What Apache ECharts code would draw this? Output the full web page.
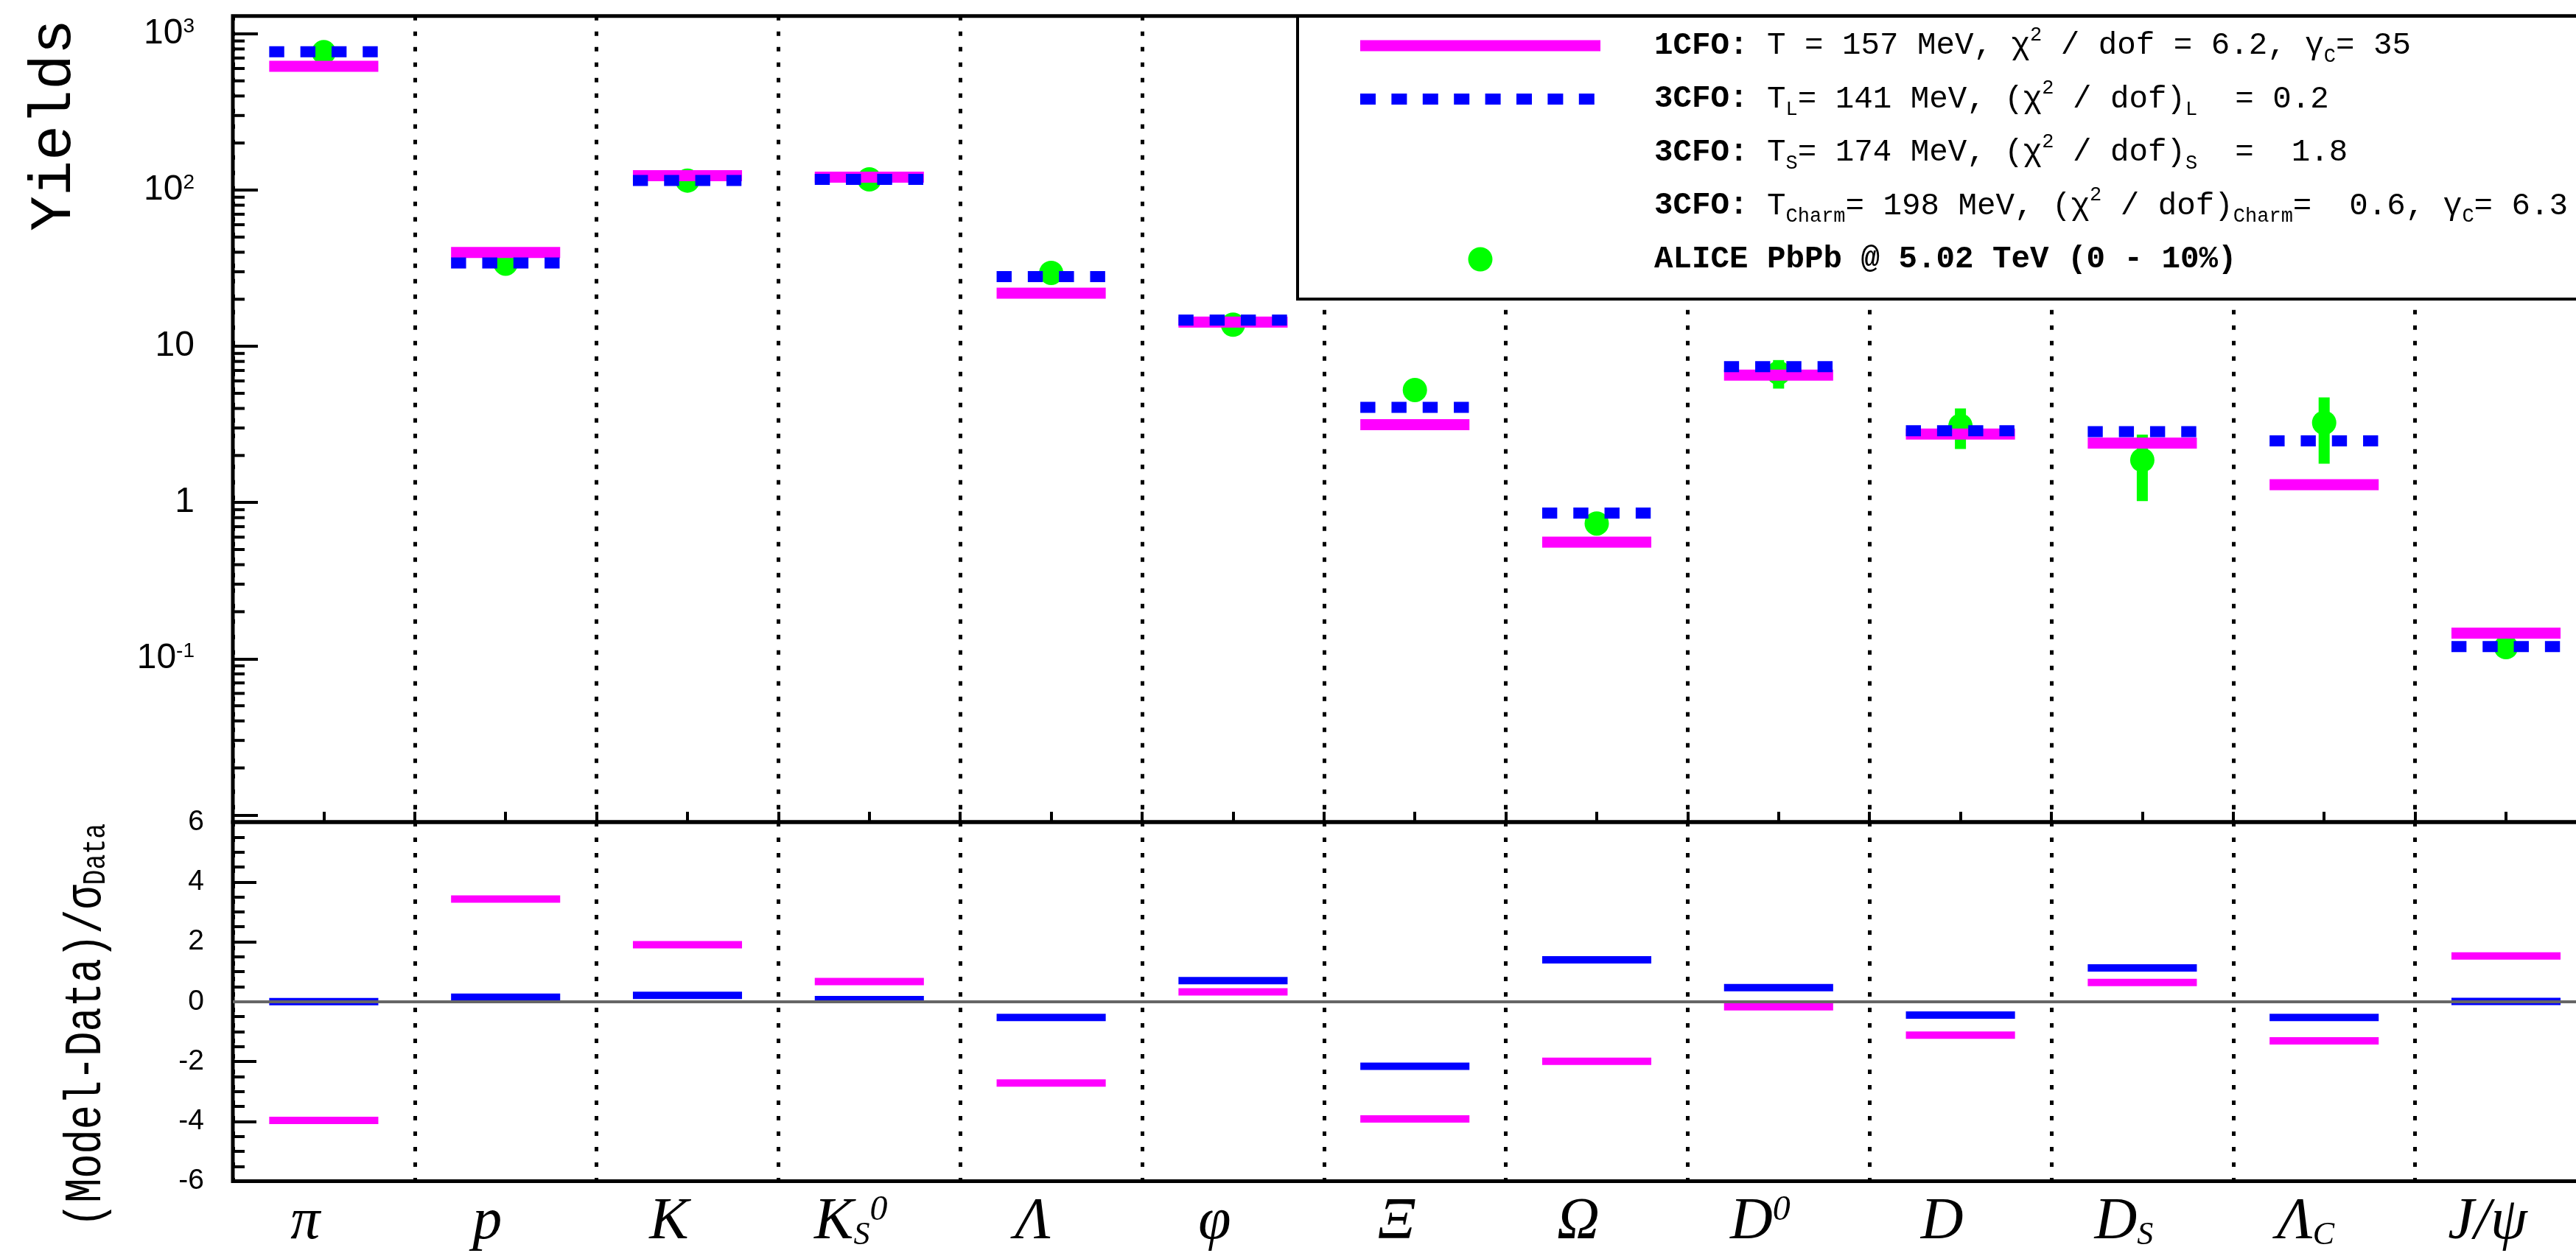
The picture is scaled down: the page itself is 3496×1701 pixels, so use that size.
<!DOCTYPE html>
<html>
<head>
<meta charset="utf-8">
<script src="https://cdn.jsdelivr.net/npm/echarts@6/dist/echarts.min.js"></script>
<style>html,body{margin:0;padding:0;background:#fff;}#c{width:3496px;height:1701px;}</style>
</head>
<body>
<div id="c"></div>
<script>
// ---------------- data ----------------
const categories = ['π', 'p', 'K', 'K_S^0', 'Λ', 'φ', 'Ξ', 'Ω', 'D^0', 'D', 'D_S', 'Λ_C', 'J/ψ'];
// yields, 1CFO model (magenta)
const yield1CFO = [620, 39.9, 123.5, 121, 21.9, 14.3, 3.15, 0.557, 6.53, 2.74, 2.40, 1.30, 0.146];
// yields, 3CFO model (blue dashed)
const yield3CFO = [768, 34.1, 115.2, 116.9, 27.9, 14.7, 4.06, 0.856, 7.40, 2.88, 2.84, 2.48, 0.1196];
// ALICE data (green)
const yieldData = [763, 33.8, 115, 117, 29.5, 13.75, 5.25, 0.734, 6.76, 3.10, 1.87, 3.24, 0.1186];
const yieldDataErr = [null, null, null, null, null, null, null, null, 1.40, 0.90, 0.85, 1.47, null];
// (Model-Data)/sigma
const dev1CFO = [-3.97, 3.43, 1.90, 0.67, -2.72, 0.33, -3.92, -1.99, -0.17, -1.12, 0.64, -1.31, 1.53];
const dev3CFO = [0.0, 0.15, 0.21, 0.07, -0.53, 0.70, -2.16, 1.40, 0.47, -0.45, 1.13, -0.53, 0.01];
// tick labels of the yields axis, exponents -2 .. 3
const yieldTickExp = [-2, -1, 0, 1, 2, 3];
const yieldTickLabels = ['', '10^-1', '1', '10', '10^2', '10^3'];
// minor ticks of the log axis
const yieldMinorTicks = [0.02, 0.03, 0.04, 0.05, 0.06, 0.07, 0.08, 0.09,
  0.2, 0.3, 0.4, 0.5, 0.6, 0.7, 0.8, 0.9,
  2, 3, 4, 5, 6, 7, 8, 9,
  20, 30, 40, 50, 60, 70, 80, 90,
  200, 300, 400, 500, 600, 700, 800, 900];
const legendNames = ['1CFO', '3CFO_L', '3CFO_S', '3CFO_Charm', 'ALICE'];
const legendTexts = [
  '{g| }{b|1CFO:} T = 157 MeV, χ{sup|2} / dof = 6.2, γ{sub|C}= 35',
  '{g| }{b|3CFO:} T{sub|L}= 141 MeV, (χ{sup|2} / dof){sub|L}  = 0.2',
  '{g| }{b|3CFO:} T{sub|S}= 174 MeV, (χ{sup|2} / dof){sub|S}  =  1.8',
  '{g| }{b|3CFO:} T{sub|Charm}= 198 MeV, (χ{sup|2} / dof){sub|Charm}=  0.6, γ{sub|C}= 6.3',
  '{g| }{b|ALICE PbPb @ 5.02 TeV (0 - 10%)}'
];

// ---------------- styling ----------------
const MAGENTA = '#ff00ff', BLUE = '#0000ff', GREEN = '#00ff00';
const BAR_FRAC = 0.6;

function toRich(s) {
  return s.replace(/_(\w+)/, '{sub|$1}').replace(/\^(-?\w+)/, '{sup|$1}');
}

function barRender(color, thick, dashed) {
  return function (params, api) {
    const c = api.coord([api.value(0), api.value(1)]);
    const w = api.size([1, 0])[0] * BAR_FRAC;
    if (dashed) {
      return {
        type: 'line',
        shape: { x1: c[0] - w / 2, y1: c[1], x2: c[0] + w / 2, y2: c[1] },
        style: { stroke: color, lineWidth: thick, lineDash: [20.4, 21.9], lineCap: 'butt', fill: null }
      };
    }
    return {
      type: 'rect',
      shape: { x: c[0] - w / 2, y: c[1] - thick / 2, width: w, height: thick },
      style: { fill: color }
    };
  };
}

function dataRender(params, api) {
  const i = api.value(0), v = api.value(1), e = api.value(2);
  const c = api.coord([i, v]);
  const children = [];
  if (e && !isNaN(e)) {
    const hi = api.coord([i, v + e]);
    const lo = api.coord([i, v - e]);
    children.push({ type: 'rect', shape: { x: c[0] - 7.5, y: hi[1], width: 15, height: lo[1] - hi[1] }, style: { fill: GREEN } });
  }
  children.push({ type: 'circle', shape: { cx: c[0], cy: c[1], r: 16.5 }, style: { fill: GREEN } });
  return { type: 'group', children: children };
}

function minorTickRender(params, api) {
  const y = api.coord([0, api.value(1)])[1];
  const x0 = params.coordSys.x;
  return { type: 'line', shape: { x1: x0, y1: y, x2: x0 + 16, y2: y }, style: { stroke: '#000', lineWidth: 4 } };
}

const iconBar = 'path://M0,0L0.01,0L0,0.01Z M0,9L326,9L326,24L0,24Z M326,33L325.99,33L326,32.99Z';
let dashPath = 'path://M0,0L0.01,0L0,0.01Z M326,33L325.99,33L326,32.99Z';
for (let k = 0; k < 8; k++) {
  const x = (k * 42.4).toFixed(1), x2 = (k * 42.4 + 21).toFixed(1);
  dashPath += ' M' + x + ',9L' + x2 + ',9L' + x2 + ',24L' + x + ',24Z';
}
const iconDot = 'path://M0,16.5L0.01,16.5L0,16.51Z M326,16.5L325.99,16.5L326,16.51Z M146.5,16.5A16.5,16.5 0 1,0 179.5,16.5A16.5,16.5 0 1,0 146.5,16.5Z';

const monoRich = {
  b: { fontFamily: 'Liberation Mono', fontWeight: 'bold', fontSize: 42.5, lineHeight: 56, color: '#000' },
  sup: { fontFamily: 'Liberation Mono', fontSize: 27, lineHeight: 30, verticalAlign: 'top', color: '#000' },
  sub: { fontFamily: 'Liberation Mono', fontSize: 27, lineHeight: 8, verticalAlign: 'bottom', color: '#000' },
  g: { width: 68, lineHeight: 56 }
};

const catLabel = {
  show: true, interval: 0, margin: 16, color: '#000',
  fontFamily: 'Liberation Serif', fontStyle: 'italic', fontSize: 80, lineHeight: 80,
  padding: [0, 50, 0, 0],
  formatter: function (v) { return toRich(v); },
  rich: {
    sup: { fontFamily: 'Liberation Serif', fontStyle: 'italic', fontSize: 48, lineHeight: 40, verticalAlign: 'top', color: '#000' },
    sub: { fontFamily: 'Liberation Serif', fontStyle: 'italic', fontSize: 44, lineHeight: 30, verticalAlign: 'bottom', color: '#000' }
  }
};

const dotted = { show: true, interval: 0, lineStyle: { color: '#000', width: 5, type: [6, 15] } };

const chart = echarts.init(document.getElementById('c'), null, { renderer: 'canvas' });
chart.setOption({
  animation: false,
  backgroundColor: '#fff',
  grid: [
    { left: 316, top: 21.75, width: 3208.4, height: 1094.3, show: true, borderColor: '#000', borderWidth: 5,
      backgroundColor: 'transparent', containLabel: false, outerBoundsMode: 'none' },
    { left: 316, top: 1116, width: 3208.4, height: 487.6, show: true, borderColor: '#000', borderWidth: 5,
      backgroundColor: 'transparent', containLabel: false, outerBoundsMode: 'none' }
  ],
  xAxis: [
    { type: 'category', gridIndex: 0, data: categories, position: 'top', boundaryGap: true,
      axisLine: { show: false, onZero: false }, axisTick: { show: false }, axisLabel: { show: false }, splitLine: dotted },
    { type: 'category', gridIndex: 1, data: categories, position: 'bottom', boundaryGap: true,
      axisLine: { show: false, onZero: false }, axisTick: { show: false }, axisLabel: catLabel, splitLine: dotted },
    { type: 'value', gridIndex: 0, position: 'bottom', min: 0, max: 13, interval: 0.5,
      axisLine: { show: false, onZero: false }, axisLabel: { show: false }, splitLine: { show: false },
      axisTick: { show: true, inside: true, length: 14, lineStyle: { color: '#000', width: 4 } } }
  ],
  yAxis: [
    { type: 'log', logBase: 10, gridIndex: 0, min: 0.009, max: 1300,
      name: 'Yields', nameLocation: 'middle', nameRotate: 90, nameGap: 202,
      nameTextStyle: { fontFamily: 'Liberation Mono', fontSize: 80, lineHeight: 80, color: '#000', padding: [0, 0, 0, 798] },
      axisLine: { show: false }, splitLine: { show: false },
      axisTick: { show: true, inside: true, length: 34, lineStyle: { color: '#000', width: 4 } },
      axisLabel: {
        margin: 52, color: '#000', fontFamily: 'Liberation Sans', fontSize: 48, lineHeight: 48,
        formatter: function (v) {
          const e = Math.log10(v), r = Math.round(e);
          if (Math.abs(e - r) > 1e-6) return '';
          const k = yieldTickExp.indexOf(r);
          return k < 0 ? '' : toRich(yieldTickLabels[k]);
        },
        rich: { sup: { fontFamily: 'Liberation Sans', fontSize: 28, lineHeight: 22, verticalAlign: 'top', color: '#000' } }
      } },
    { type: 'value', gridIndex: 1, min: -6, max: 6, interval: 2,
      axisLine: { show: false }, splitLine: { show: false },
      axisTick: { show: true, inside: true, length: 32, lineStyle: { color: '#000', width: 4 } },
      minorTick: { show: true, splitNumber: 4, length: 16, lineStyle: { color: '#000', width: 4 } },
      axisLabel: { margin: 39, color: '#000', fontFamily: 'Liberation Sans', fontSize: 39 } }
  ],
  legend: {
    type: 'plain', orient: 'vertical', left: 1761, top: 22,
    itemWidth: 326, itemHeight: 33, itemGap: 16.5,
    padding: [12, 200, 26, 85],
    backgroundColor: '#fff', borderColor: '#000', borderWidth: 4, borderRadius: 0,
    selectedMode: false, symbolKeepAspect: false,
    textStyle: { fontFamily: 'Liberation Mono', fontSize: 42.5, lineHeight: 56, color: '#000', rich: monoRich },
    formatter: function (name) { return legendTexts[legendNames.indexOf(name)]; },
    data: [
      { name: '1CFO', icon: iconBar, itemStyle: { color: MAGENTA, borderWidth: 0 } },
      { name: '3CFO_L', icon: dashPath, itemStyle: { color: BLUE, borderWidth: 0 } },
      { name: '3CFO_S', icon: 'rect', itemStyle: { color: 'rgba(0,0,0,0)', opacity: 0, borderWidth: 0 } },
      { name: '3CFO_Charm', icon: 'rect', itemStyle: { color: 'rgba(0,0,0,0)', opacity: 0, borderWidth: 0 } },
      { name: 'ALICE', icon: iconDot, itemStyle: { color: GREEN, borderWidth: 0 } }
    ]
  },
  graphic: [
    { type: 'text', x: 152, y: 1392, rotation: Math.PI / 2, scaleX: 0.79, scaleY: 1,
      style: { text: '(Model-Data)/σ{sub|Data}', fontFamily: 'Liberation Mono', fontSize: 70, lineHeight: 70,
        fill: '#000', align: 'center', verticalAlign: 'bottom', textAlign: 'center', textVerticalAlign: 'bottom',
        rich: { sub: { fontFamily: 'Liberation Mono', fontSize: 44, lineHeight: 40, verticalAlign: 'bottom', fill: '#000' } } } }
  ],
  series: [
    { name: 'zero', type: 'line', xAxisIndex: 1, yAxisIndex: 1, data: [], silent: true,
      markLine: { silent: true, symbol: ['none', 'none'], label: { show: false }, animation: false,
        lineStyle: { color: '#666666', width: 4, type: 'solid' }, data: [{ yAxis: 0 }] } },
    { name: 'yTicks', type: 'custom', xAxisIndex: 0, yAxisIndex: 0, silent: true,
      data: yieldMinorTicks.map(v => [0, v]), renderItem: minorTickRender },
    { name: 'ALICE', type: 'custom', xAxisIndex: 0, yAxisIndex: 0, itemStyle: { color: GREEN },
      data: yieldData.map((v, i) => [i, v, yieldDataErr[i] == null ? 0 : yieldDataErr[i]]), renderItem: dataRender },
    { name: '1CFO', type: 'custom', xAxisIndex: 0, yAxisIndex: 0, itemStyle: { color: MAGENTA },
      data: yield1CFO.map((v, i) => [i, v]), renderItem: barRender(MAGENTA, 15, false) },
    { name: '3CFO_L', type: 'custom', xAxisIndex: 0, yAxisIndex: 0, itemStyle: { color: BLUE },
      data: yield3CFO.map((v, i) => [i, v]), renderItem: barRender(BLUE, 15, true) },
    { name: '3CFO_S', type: 'custom', xAxisIndex: 0, yAxisIndex: 0, data: [], renderItem: function () { return null; } },
    { name: '3CFO_Charm', type: 'custom', xAxisIndex: 0, yAxisIndex: 0, data: [], renderItem: function () { return null; } },
    { name: '1CFO', type: 'custom', xAxisIndex: 1, yAxisIndex: 1, itemStyle: { color: MAGENTA },
      data: dev1CFO.map((v, i) => [i, v]), renderItem: barRender(MAGENTA, 10, false) },
    { name: '3CFO_L', type: 'custom', xAxisIndex: 1, yAxisIndex: 1, itemStyle: { color: BLUE },
      data: dev3CFO.map((v, i) => [i, v]), renderItem: barRender(BLUE, 10, false) }
  ]
});
</script>
</body>
</html>
